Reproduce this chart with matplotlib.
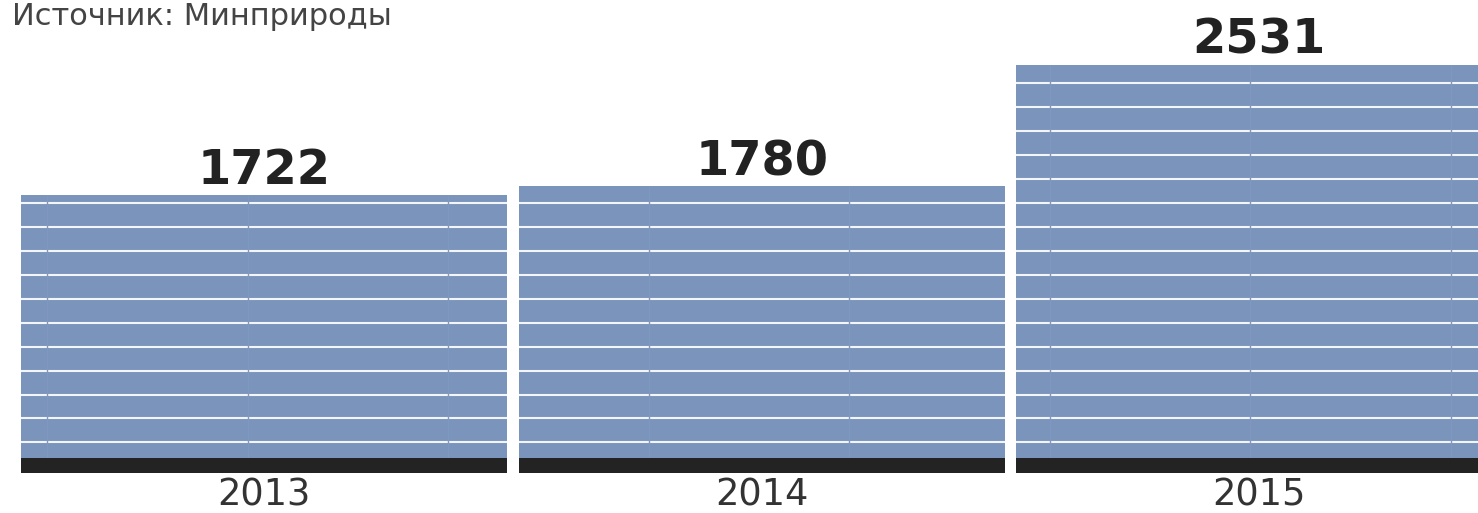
import matplotlib
matplotlib.use("Agg")
import matplotlib.pyplot as plt
import numpy as np

# Data
years = ["2013", "2014", "2015"]
values = [1722, 1780, 2531]
source_text = "Источник: Минприроды"

# Styling constants
BAR_COLOR = "#7b94bb"
BASE_COLOR = "#232323"
BASE_HEIGHT = 93
GRID_START = 190
GRID_STEP = 148.5
VGRID_START = -0.436
VGRID_STEP = 0.403
BAR_WIDTH = 0.977

W, H = 1478, 513
fig = plt.figure(figsize=(W / 100, H / 100), dpi=100)
ax = fig.add_axes([0, 0, 1, 1])
ax.set_xlim(-0.531, 2.440)
ax.set_ylim(-248, 2934)
ax.axis("off")

x = np.arange(len(years))
ax.bar(x, values, width=BAR_WIDTH, color=BAR_COLOR, zorder=1, linewidth=0)
ax.bar(x, [BASE_HEIGHT] * len(years), width=BAR_WIDTH, color=BASE_COLOR,
       zorder=4, linewidth=0)

# horizontal white lines inside bars
gy = np.arange(GRID_START, max(values), GRID_STEP)
for xi, v in zip(x, values):
    ys = gy[gy < v - 5]
    ax.hlines(ys, xi - BAR_WIDTH / 2, xi + BAR_WIDTH / 2, color="#f2f5fa",
              linewidth=1.5, zorder=2)
    # faint vertical lines inside bars
    gx = VGRID_START + VGRID_STEP * np.arange(0, 12)
    xs = gx[(gx > xi - BAR_WIDTH / 2) & (gx < xi + BAR_WIDTH / 2)]
    ax.vlines(xs, BASE_HEIGHT, v, color="#8098bf", linewidth=1.0, zorder=3)

# value labels
for xi, v in zip(x, values):
    ax.annotate(f"{v}", (xi, v), xytext=(0, 7.9), textcoords="offset points",
                ha="center", va="baseline", fontsize=34.5, fontweight="bold",
                color="#222222", family="DejaVu Sans")

# year labels
for xi, yr in zip(x, years):
    ax.text(xi, -199, yr, ha="center", va="baseline", fontsize=26.5,
            color="#333333", family="DejaVu Sans")

fig.text(12 / W, 1 - 25 / H, source_text, ha="left", va="baseline",
         fontsize=22, color="#444444", family="DejaVu Sans")

fig.savefig("out.png", dpi=100)
